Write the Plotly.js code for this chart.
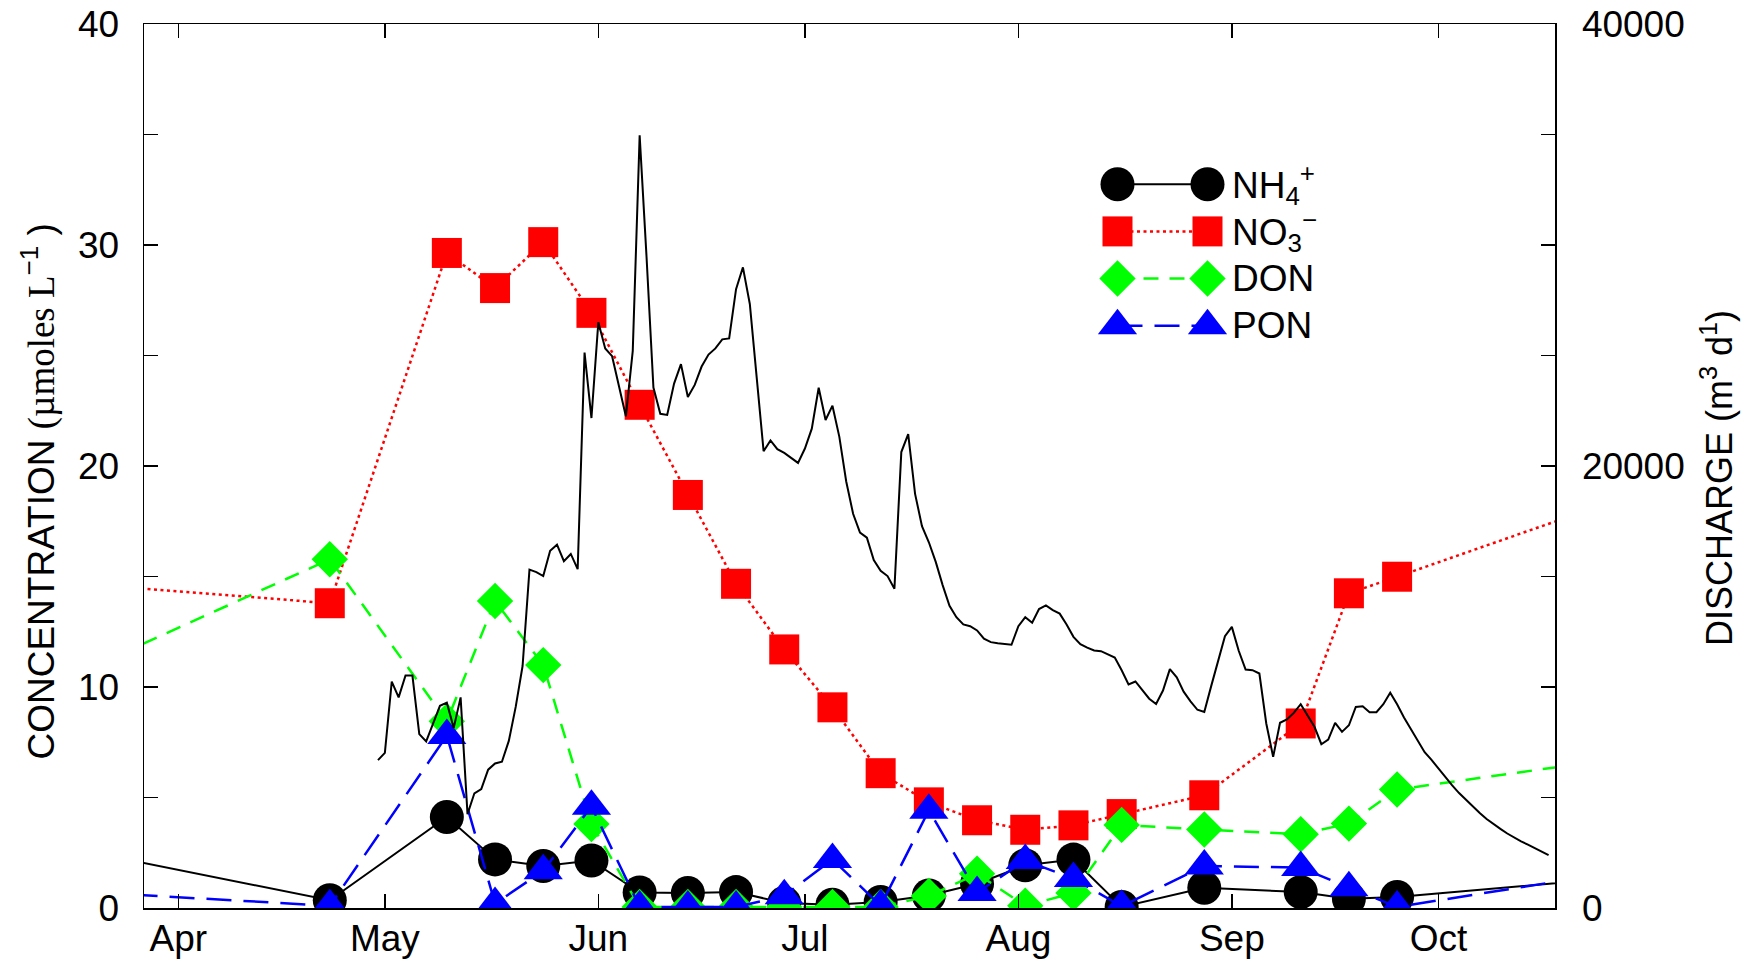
<!DOCTYPE html>
<html>
<head>
<meta charset="utf-8">
<script src="https://cdn.plot.ly/plotly-3.0.1.min.js"></script>
<style>
html, body { margin: 0; padding: 0; background: #ffffff; }
#chart { width: 1761px; height: 964px; }
</style>
</head>
<body>
<div id="chart"></div>
<script>
// ---------------- data ----------------
// sampling dates (first and last lie outside the visible window; lines run off the frame)
const sampleDates = ['2001-03-20','2001-04-23','2001-05-10','2001-05-17','2001-05-24','2001-05-31',
  '2001-06-07','2001-06-14','2001-06-21','2001-06-28','2001-07-05','2001-07-12','2001-07-19',
  '2001-07-26','2001-08-02','2001-08-09','2001-08-16','2001-08-28','2001-09-11','2001-09-18',
  '2001-09-25','2001-10-30'];

// concentrations, µmoles L-1
const nh4 = [2.47, 0.35, 4.12, 2.2, 1.9, 2.15, 0.7, 0.68, 0.72, 0.23, 0.15, 0.27, 0.57, 1.1,
  1.93, 2.19, 0.05, 0.92, 0.72, 0.42, 0.5, 1.45];
const no3 = [14.62, 13.79, 29.64, 28.05, 30.13, 26.93, 22.77, 18.69, 14.67, 11.7, 9.08, 6.1,
  4.78, 3.97, 3.54, 3.74, 4.25, 5.1, 8.35, 14.24, 14.99, 18.8];
const don = [10.98, 15.78, 8.45, 13.89, 10.99, 3.8, 0.05, 0.05, 0.05, 0.05, 0.05, 0.05, 0.54,
  1.55, 0.1, 0.68, 3.76, 3.55, 3.34, 3.82, 5.36, 6.89];
const pon = [0.70, 0.1, 7.8, 0.2, 1.68, 4.6, 0.05, 0.05, 0.05, 0.55, 2.2, 0.1, 4.42, 0.7, 2.15,
  1.33, 0.08, 1.9, 1.83, 0.92, 0.05, 1.78];

// daily discharge, m3 d-1, starting 30 April
const dischargeStart = '2001-04-30';
const discharge = [
  6690, 7020, 10240, 9530, 10520, 10520, 7870, 7540, 8340, 9150,
  9290, 8150, 9530, 4250, 5190, 5380, 6260, 6540, 6620, 7560,
  9100, 10950, 15310, 15200, 15020, 16160, 16440, 15690, 16020, 15330,
  25130, 22170, 26510, 25320, 24970, 23550, 22250, 25210, 34960, 29470,
  23550, 22360, 22310, 23730, 24610, 23120, 23670, 24500, 25040, 25320,
  25730, 25770, 28000, 28990, 27330, 24000, 20670, 21160, 20760, 20590,
  20350, 20140, 20790, 21690, 23540, 22080, 22730, 21320, 19300, 17840,
  16990, 16760, 15740, 15260, 15020, 14450, 20630, 21440, 18740, 17280,
  16550, 15660, 14610, 13670, 13160, 12830, 12750, 12560, 12190, 12030,
  11980, 11950, 11910, 12750, 13160, 12910, 13530, 13690, 13480, 13320,
  12830, 12270, 11940, 11780, 11650, 11620, 11490, 11330, 10760, 10120,
  10250, 9840, 9470, 9230, 9840, 10810, 10440, 9790, 9350, 8970,
  8870, 10040, 11180, 12300, 12720, 11640, 10790, 10760, 10610, 8350,
  6840, 8380, 8530, 8830, 9220, 8730, 8200, 7410, 7620, 8380,
  7970, 8270, 9100, 9130, 8860, 8860, 9220, 9740, 9220, 8620,
  8080, 7550, 7050, 6700, 6300, 5900, 5550, 5200, 4900, 4580,
  4300, 4030, 3790, 3580, 3370, 3180, 3010, 2870, 2720, 2550, 2390
];

const monthTicks = ['2001-04-01','2001-05-01','2001-06-01','2001-07-01','2001-08-01','2001-09-01','2001-10-01'];
const monthLabels = ['Apr','May','Jun','Jul','Aug','Sep','Oct'];
const seriesLabels = ['NH<sub>4</sub><sup>+</sup>', 'NO<sub>3</sub><sup>\u2212</sup>', 'DON', 'PON'];

// ---------------- build ----------------
const dischargeDates = discharge.map((_, i) => {
  const [y, m, d] = dischargeStart.split('-').map(Number);
  return new Date(Date.UTC(y, m - 1, d + i)).toISOString().slice(0, 10);
});

const FONT = 'Liberation Sans, Arial, Helvetica, sans-serif';
const SERIF = 'Liberation Serif, Times New Roman, serif';

const styles = [
  { color: '#000000', symbol: 'circle', size: 34, dash: 'solid', width: 2 },
  { color: '#ff0000', symbol: 'square', size: 30, dash: '3px,3.5px', width: 2.5 },
  { color: '#00ff00', symbol: 'diamond', size: 28, dash: '15px,11px', width: 2.5 },
  { color: '#0000ff', symbol: 'triangle-up', size: 34, dash: '25px,12px', width: 2.5 }
];
const seriesValues = [nh4, no3, don, pon];

const traces = [];
seriesValues.forEach((vals, i) => {
  const s = styles[i];
  traces.push({
    type: 'scatter', mode: 'lines+markers', x: sampleDates, y: vals,
    xaxis: 'x', yaxis: 'y', name: seriesLabels[i], showlegend: false, hoverinfo: 'skip',
    line: { color: s.color, width: s.width, dash: s.dash },
    marker: { color: s.color, symbol: s.symbol, size: s.size, line: { width: 0 } }
  });
});
traces.push({
  type: 'scatter', mode: 'lines', x: dischargeDates, y: discharge,
  xaxis: 'x', yaxis: 'y2', name: 'Discharge', showlegend: false, hoverinfo: 'skip',
  line: { color: '#000000', width: 2 }
});

// legend swatches (line with a symbol at each end), drawn on a small hidden axis pair
const legendSampleX = [0, 1];
styles.forEach((s, i) => {
  traces.push({
    type: 'scatter', mode: 'lines+markers', x: legendSampleX, y: [i, i],
    xaxis: 'x2', yaxis: 'y3', showlegend: false, hoverinfo: 'skip', cliponaxis: false,
    line: { color: s.color, width: s.width, dash: s.dash },
    marker: { color: s.color, symbol: s.symbol, size: s.size, line: { width: 0 } }
  });
});

const annotations = seriesLabels.map((t, i) => ({
  xref: 'x2', yref: 'y3', x: 1.25, y: i, xanchor: 'left', yanchor: 'middle',
  text: t, showarrow: false, font: { family: FONT, size: 37, color: '#000' }
}));
annotations.push({
  xref: 'paper', yref: 'paper', x: -0.0745, y: 0.471, xanchor: 'center', yanchor: 'middle',
  textangle: -90, showarrow: false,
  text: 'CONCENTRATION <span style="font-family:' + SERIF + '">(\u00b5moles L</span><sup>\u22121</sup> )',
  font: { family: FONT, size: 37, color: '#000' }
});
annotations.push({
  xref: 'paper', yref: 'paper', x: 1.1148, y: 0.4864, xanchor: 'center', yanchor: 'middle',
  textangle: -90, showarrow: false,
  text: 'DISCHARGE (m<sup>3</sup> d<sup>1</sup>)',
  font: { family: FONT, size: 36, color: '#000' }
});

const axisCommon = {
  showgrid: false, zeroline: false, showline: true, linecolor: '#000', linewidth: 1.5,
  ticks: 'inside', ticklen: 14, tickwidth: 1.5, tickcolor: '#000',
  tickfont: { family: FONT, size: 37, color: '#000' }
};

const layout = {
  width: 1761, height: 964,
  margin: { l: 144, r: 206, t: 24, b: 56, pad: 0 },
  paper_bgcolor: '#ffffff', plot_bgcolor: '#ffffff',
  showlegend: false, hovermode: false,
  font: { family: FONT, size: 37, color: '#000' },
  xaxis: Object.assign({}, axisCommon, {
    type: 'date', range: ['2001-03-27 00:30', '2001-10-17 22:20'],
    tickmode: 'array', tickvals: monthTicks, ticktext: monthLabels,
    mirror: 'ticks', ticklabelstandoff: -3
  }),
  yaxis: Object.assign({}, axisCommon, {
    range: [0, 40], tickmode: 'linear', tick0: 0, dtick: 10,
    minor: { dtick: 5, ticks: 'inside', ticklen: 14, tickwidth: 1.5, tickcolor: '#000', showgrid: false },
    ticklabelstandoff: 16
  }),
  yaxis2: Object.assign({}, axisCommon, {
    overlaying: 'y', side: 'right', anchor: 'x',
    range: [0, 40000], tickmode: 'linear', tick0: 0, dtick: 20000, tickformat: 'd',
    minor: { dtick: 5000, ticks: 'inside', ticklen: 14, tickwidth: 1.5, tickcolor: '#000', showgrid: false },
    ticklabelstandoff: 18
  }),
  xaxis2: { domain: [0.65804, 0.78561], range: [-0.5, 1.5], visible: false, anchor: 'y3', fixedrange: true },
  yaxis3: { domain: [0.6320, 0.8454], range: [3.5, -0.5], visible: false, anchor: 'x2', fixedrange: true },
  annotations: annotations
};

Plotly.newPlot('chart', traces, layout, { staticPlot: true, displayModeBar: false });
</script>
</body>
</html>
